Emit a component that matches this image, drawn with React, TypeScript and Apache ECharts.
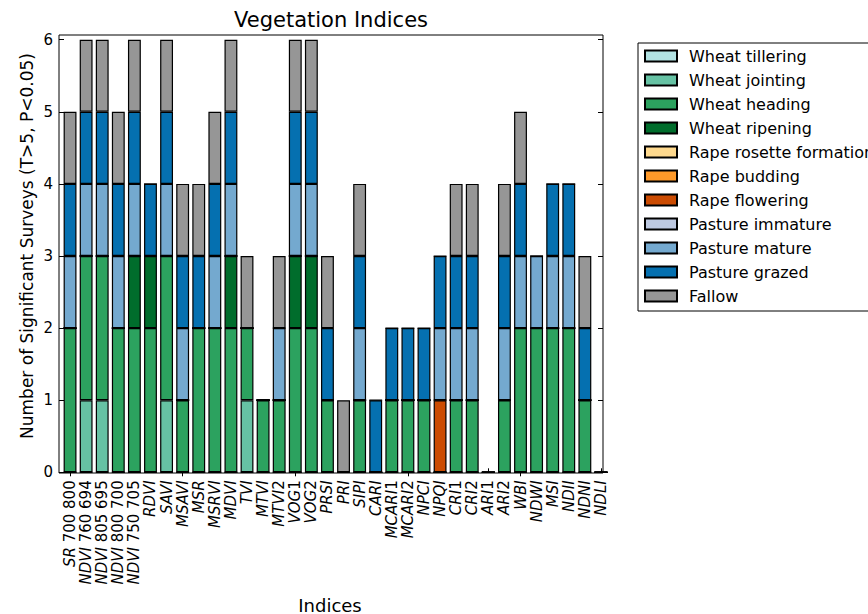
import React, { useEffect, useRef } from "react";
import * as echarts from "echarts";

// Vegetation indices along the x axis
const indices = [
  "SR 700 800", "NDVI 760 694", "NDVI 805 695", "NDVI 800 700", "NDVI 750 705",
  "RDVI", "SAVI", "MSAVI", "MSR", "MSRVI", "MDVI", "TVI", "MTVI", "MTVI2",
  "VOG1", "VOG2", "PRSI", "PRI", "SIPI", "CARI", "MCARI1", "MCARI2", "NPCI",
  "NPQI", "CRI1", "CRI2", "ARI1", "ARI2", "WBI", "NDWI", "MSI", "NDII", "NDNI", "NDLI",
];

// Number of significant surveys per crop stage, one value per index
const wheatTillering = [0,0,0,0,0, 0,0,0,0,0, 0,0,0,0,0, 0,0,0,0,0, 0,0,0,0,0, 0,0,0,0,0, 0,0,0,0];
const wheatJointing  = [0,1,1,0,0, 0,1,0,0,0, 0,1,0,0,0, 0,0,0,0,0, 0,0,0,0,0, 0,0,0,0,0, 0,0,0,0];
const wheatHeading   = [2,2,2,2,2, 2,2,1,2,2, 2,1,1,1,2, 2,1,0,1,0, 1,1,1,0,1, 1,0,1,2,2, 2,2,1,0];
const wheatRipening  = [0,0,0,0,1, 1,0,0,0,0, 1,0,0,0,1, 1,0,0,0,0, 0,0,0,0,0, 0,0,0,0,0, 0,0,0,0];
const rapeRosette    = [0,0,0,0,0, 0,0,0,0,0, 0,0,0,0,0, 0,0,0,0,0, 0,0,0,0,0, 0,0,0,0,0, 0,0,0,0];
const rapeBudding    = [0,0,0,0,0, 0,0,0,0,0, 0,0,0,0,0, 0,0,0,0,0, 0,0,0,0,0, 0,0,0,0,0, 0,0,0,0];
const rapeFlowering  = [0,0,0,0,0, 0,0,0,0,0, 0,0,0,0,0, 0,0,0,0,0, 0,0,0,1,0, 0,0,0,0,0, 0,0,0,0];
const pastureImmature= [0,0,0,0,0, 0,0,0,0,0, 0,0,0,0,0, 0,0,0,0,0, 0,0,0,0,0, 0,0,0,0,0, 0,0,0,0];
const pastureMature  = [1,1,1,1,1, 0,1,1,0,1, 1,0,0,1,1, 1,0,0,1,0, 0,0,0,1,1, 1,0,1,1,1, 1,1,0,0];
const pastureGrazed  = [1,1,1,1,1, 1,1,1,1,1, 1,0,0,0,1, 1,1,0,1,1, 1,1,1,1,1, 1,0,1,1,0, 1,1,1,0];
const fallow         = [1,1,1,1,1, 0,1,1,1,1, 1,1,0,1,1, 1,1,1,1,0, 0,0,0,0,1, 1,0,1,1,0, 0,0,1,0];

const stageNames = [
  "Wheat tillering", "Wheat jointing", "Wheat heading", "Wheat ripening",
  "Rape rosette formation", "Rape budding", "Rape flowering",
  "Pasture immature", "Pasture mature", "Pasture grazed", "Fallow",
];
const stageValues = [
  wheatTillering, wheatJointing, wheatHeading, wheatRipening,
  rapeRosette, rapeBudding, rapeFlowering,
  pastureImmature, pastureMature, pastureGrazed, fallow,
];
const stageColors = [
  "#b2e2e2", "#66c2a4", "#2ca25f", "#006d2c",
  "#fed98e", "#fe9929", "#cc4c02",
  "#bdc9e1", "#74a9cf", "#0570b0", "#969696",
];

const yTicks = [0, 1, 2, 3, 4, 5, 6];

const FONT = "DejaVu Sans";

// Letters in italic, digits upright
function richLabel(name: string): string {
  return name
    .split(" ")
    .map((word) =>
      word.replace(/([A-Za-z]+)|([0-9]+)/g, (_m, a, b) => (a ? `{i|${a}}` : `{n|${b}}`))
    )
    .join(" ");
}

export default function App() {
  const ref = useRef<HTMLDivElement>(null);

  useEffect(() => {
    if (!ref.current) return;
    const chart = echarts.init(ref.current, undefined, { renderer: "svg" });

    const series: any[] = stageNames.map((name, k) => ({
      name,
      type: "bar",
      stack: "total",
      barWidth: "80%",
      data: stageValues[k],
      itemStyle: { color: stageColors[k], borderColor: "#000", borderWidth: 1.2 },
      emphasis: { disabled: true },
    }));

    const axisTickStyle = { lineStyle: { color: "#000", width: 1 } };

    chart.setOption({
      animation: false,
      backgroundColor: "#fff",
      textStyle: { fontFamily: FONT },
      grid: { left: 62, right: 259, top: 39.7, bottom: 141.7, containLabel: false },
      xAxis: [
        {
          type: "category",
          data: indices,
          position: "bottom",
          axisLine: { show: false },
          axisTick: { show: true, inside: true, length: 4, alignWithLabel: true, ...axisTickStyle },
          axisLabel: {
            rotate: 90,
            interval: 0,
            margin: 8,
            color: "#000",
            formatter: (v: string) => richLabel(v),
            rich: {
              i: { fontStyle: "italic", fontSize: 15, fontFamily: FONT, color: "#000" },
              n: { fontStyle: "normal", fontSize: 15, fontFamily: FONT, color: "#000" },
            },
            fontSize: 15,
            fontFamily: FONT,
          },
          splitLine: { show: false },
        },
        {
          type: "category",
          data: indices,
          position: "top",
          axisLine: { show: false },
          axisTick: { show: true, inside: true, length: 4, alignWithLabel: true, ...axisTickStyle },
          axisLabel: { show: false },
        },
      ],
      yAxis: [
        {
          type: "value",
          min: yTicks[0],
          max: yTicks[yTicks.length - 1],
          interval: 1,
          position: "left",
          offset: 3,
          axisLine: { show: false },
          axisTick: { show: true, inside: true, length: 5, ...axisTickStyle },
          axisLabel: { color: "#000", fontSize: 15, fontFamily: FONT, margin: 6 },
          splitLine: { show: false },
        },
        {
          type: "value",
          min: yTicks[0],
          max: yTicks[yTicks.length - 1],
          interval: 1,
          position: "right",
          offset: -6,
          axisLine: { show: false },
          axisTick: { show: true, inside: true, length: 5, ...axisTickStyle },
          axisLabel: { show: false },
          splitLine: { show: false },
        },
      ],
      legend: {
        orient: "vertical",
        left: 638,
        top: 43,
        data: stageNames,
        icon: "rect",
        itemWidth: 32,
        itemHeight: 11,
        itemGap: 8,
        borderColor: "#000",
        borderWidth: 1,
        padding: [5, 12, 7, 6],
        selectedMode: false,
        textStyle: { fontSize: 16, fontFamily: FONT, color: "#000", lineHeight: 16, padding: [0, 0, 0, 7] },
      },
      series,
      graphic: [
        {
          type: "rect",
          shape: { x: 59, y: 35, width: 544, height: 438 },
          style: { fill: "none", stroke: "#000", lineWidth: 1 },
          z: 100,
          silent: true,
        },
        {
          type: "text",
          x: 331,
          y: 20,
          style: {
            text: "Vegetation Indices",
            fontSize: 21,
            fontFamily: FONT,
            fill: "#000",
            align: "center",
            verticalAlign: "middle",
          },
        },
        {
          type: "text",
          x: 27,
          y: 246,
          rotation: Math.PI / 2,
          style: {
            text: "Number of Significant Surveys (T>5, P<0.05)",
            fontSize: 17,
            fontFamily: FONT,
            fill: "#000",
            align: "center",
            verticalAlign: "middle",
          },
        },
        {
          type: "text",
          x: 330,
          y: 605,
          style: {
            text: "Indices",
            fontSize: 18,
            fontFamily: FONT,
            fill: "#000",
            align: "center",
            verticalAlign: "middle",
          },
        },
      ],
    });

    return () => chart.dispose();
  }, []);

  return (
    <div
      ref={ref}
      style={{ position: "fixed", left: 0, top: 0, width: 868, height: 614, background: "#fff" }}
    />
  );
}
